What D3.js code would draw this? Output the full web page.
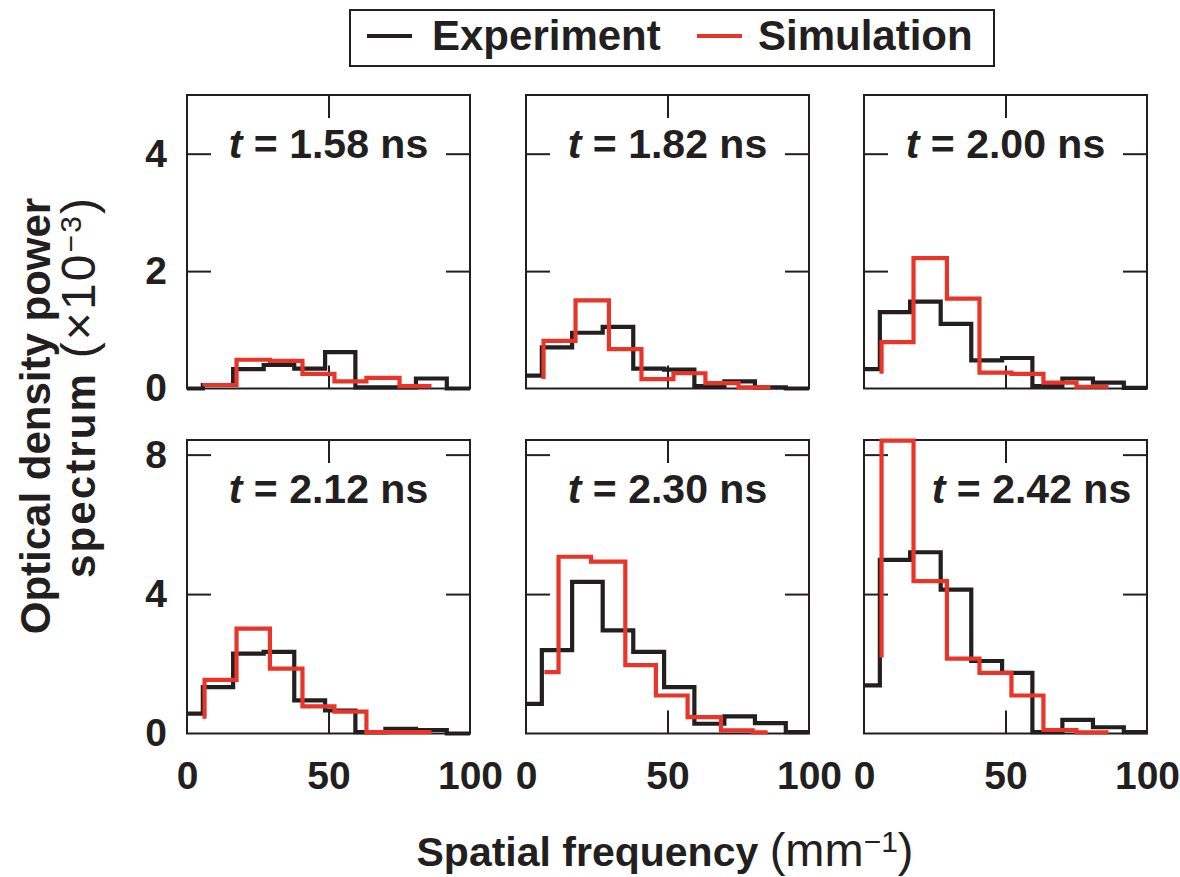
<!DOCTYPE html>
<html>
<head>
<meta charset="utf-8">
<script src="https://cdn.jsdelivr.net/npm/d3@7"></script>
<style>
body{margin:0;background:#fff}
svg text{font-family:"Liberation Sans",Arial,Helvetica,sans-serif;fill:#231f20}
</style>
</head>
<body>
<svg width="1180" height="877"></svg>
<script>
// panel times (ns)
const times = ["1.58","1.82","2.00","2.12","2.30","2.42"];

// bin edges, spatial frequency (mm^-1)
const freqExp = [0, 5.6, 16.3, 27.1, 37.9, 48.8, 59.5, 70.1, 80.9, 91.8, 100];
const freqSim = [6.2, 17.5, 29.3, 40.8, 52.1, 63.4, 75.1, 86.4];
const freqSim230 = [6.5, 11.5, 23.0, 35.1, 45.9, 57.1, 68.9, 80.1, 85.4];

// power spectrum (x10^-3), one row per panel
const expPower = [
  [0.00, 0.06, 0.33, 0.40, 0.34, 0.62, 0.02, 0.02, 0.17, 0.00],
  [0.22, 0.70, 0.95, 1.05, 0.34, 0.32, 0.04, 0.12, 0.02, 0.00],
  [0.33, 1.30, 1.48, 1.10, 0.48, 0.52, 0.04, 0.17, 0.10, 0.01],
  [0.57, 1.33, 2.29, 2.34, 0.95, 0.66, 0.04, 0.13, 0.10, 0.00],
  [0.85, 2.39, 4.35, 2.96, 2.34, 1.33, 0.28, 0.49, 0.30, 0.04],
  [1.38, 4.98, 5.20, 4.13, 2.08, 1.74, 0.04, 0.39, 0.18, 0.04]
];
const simPower = [
  [0.06, 0.49, 0.47, 0.25, 0.12, 0.18, 0.04],
  [0.81, 1.50, 0.67, 0.16, 0.26, 0.09, 0.02],
  [0.79, 2.22, 1.53, 0.27, 0.25, 0.10, 0.03],
  [1.54, 3.01, 1.86, 0.78, 0.63, 0.04, 0.04],
  [1.76, 5.07, 4.93, 1.96, 1.09, 0.47, 0.09, 0.03],
  [8.40, 4.37, 2.15, 1.74, 1.09, 0.10, 0.03]
];
// value where the simulation curve starts (first vertical)
const simStart = [0.04, 0.16, 0.25, 0.42, 1.76, 2.18];
const simFreq = [freqSim, freqSim, freqSim, freqSim, freqSim230, freqSim];

const yTicksTop = [0, 2, 4];
const yTicksBottom = [0, 4, 8];
const xTicks = [0, 50, 100];

const INK = "#231f20", RED = "#e8352a";
const svg = d3.select("svg");

const colLeft = [187, 526, 864], W = 283;
const rowTop = [95, 440], H = 293.5;
const titleDx = [0, 0, 0, 0, 0, 26];

const x = d3.scaleLinear().domain([0, 100]).range([0, W]);
const yTop = d3.scaleLinear().domain([0, 5]).range([H, 0]);
const yBot = d3.scaleLinear().domain([0, 8.42]).range([H, 0]);

function stepPoints(edges, vals, start) {
  const pts = [];
  if (start != null) pts.push([edges[0], start]);
  vals.forEach((v, i) => pts.push([edges[i], v]));
  pts.push([edges[edges.length - 1], vals[vals.length - 1]]);
  return pts;
}

times.forEach((t, i) => {
  const row = Math.floor(i / 3), col = i % 3;
  const y = row === 0 ? yTop : yBot;
  const yt = row === 0 ? yTicksTop : yTicksBottom;
  const g = svg.append("g").attr("transform", `translate(${colLeft[col]},${rowTop[row]})`);

  g.append("rect").attr("width", W).attr("height", H)
    .attr("fill", "none").attr("stroke", INK).attr("stroke-width", 2);

  const left = g.append("g").call(d3.axisLeft(y).tickValues(yt).tickSize(-24).tickPadding(20)
      .tickFormat(col === 0 ? d3.format("d") : ""));
  const right = g.append("g").attr("transform", `translate(${W},0)`)
    .call(d3.axisRight(y).tickValues(yt.slice(1)).tickSize(-24).tickFormat(""));
  const top = g.append("g").call(d3.axisTop(x).tickValues([50]).tickSize(-23).tickFormat(""));
  const bottom = g.append("g").attr("transform", `translate(0,${H})`)
    .call(d3.axisBottom(x).tickValues(xTicks).tickSize(-23).tickPadding(28)
      .tickFormat(row === 1 ? d3.format("d") : ""));
  bottom.selectAll(".tick").filter(d => d !== 50).select("line").remove();
  left.selectAll(".tick").filter(d => d === 0).select("line").remove();

  [left, right, top, bottom].forEach(a => {
    a.attr("color", INK);
    a.select(".domain").remove();
    a.selectAll("line").attr("stroke-width", 2);
    a.selectAll("text").attr("font-size", 39).attr("font-weight", "bold")
      .attr("font-family", "'Liberation Sans',Arial,Helvetica,sans-serif");
  });

  const line = d3.line().x(d => x(d[0])).y(d => y(d[1])).curve(d3.curveStepAfter);

  g.append("path").attr("d", line(stepPoints(freqExp, expPower[i], null)))
    .attr("fill", "none").attr("stroke", INK).attr("stroke-width", 4.2);
  g.append("path").attr("d", line(stepPoints(simFreq[i], simPower[i], simStart[i])))
    .attr("fill", "none").attr("stroke", RED).attr("stroke-width", 4.2);

  const title = g.append("text").attr("x", W / 2 + titleDx[i]).attr("y", 63)
    .attr("text-anchor", "middle").attr("font-size", 41).attr("font-weight", "bold");
  title.append("tspan").attr("font-style", "italic").text("t");
  title.append("tspan").text(` = ${t} ns`);
});

// legend
const lg = svg.append("g");
lg.append("rect").attr("x", 350).attr("y", 10).attr("width", 644).attr("height", 56)
  .attr("fill", "none").attr("stroke", INK).attr("stroke-width", 2);
[["Experiment", INK, 367, 432], ["Simulation", RED, 697, 758]].forEach(([name, c, lx, tx]) => {
  lg.append("line").attr("x1", lx).attr("x2", lx + 45).attr("y1", 36).attr("y2", 36)
    .attr("stroke", c).attr("stroke-width", 4.2);
  lg.append("text").attr("x", tx).attr("y", 50).attr("font-size", 42)
    .attr("font-weight", "bold").text(name);
});

// axis titles
const xt = svg.append("text").attr("x", 665).attr("y", 866).attr("text-anchor", "middle")
  .attr("font-size", 47);
xt.append("tspan").attr("font-weight", "bold").attr("font-size", 41).text("Spatial frequency ");
xt.append("tspan").text("(mm");
xt.append("tspan").attr("font-size", 30).attr("dy", -14).text("\u22121");
xt.append("tspan").attr("dy", 14).text(")");

svg.append("text").attr("transform", "translate(50,416) rotate(-90)")
  .attr("text-anchor", "middle").attr("font-size", 42).attr("font-weight", "bold")
  .text("Optical density power");
const yt2 = svg.append("text").attr("transform", "translate(95,388) rotate(-90)")
  .attr("text-anchor", "middle").attr("font-size", 48)
  .attr("textLength", 380).attr("lengthAdjust", "spacing");
yt2.append("tspan").attr("font-weight", "bold").attr("font-size", 42).text("spectrum ");
yt2.append("tspan").text("(\u00d710");
yt2.append("tspan").attr("font-size", 30).attr("dy", -14).text("\u22123");
yt2.append("tspan").attr("dy", 14).text(")");
</script>
</body>
</html>
